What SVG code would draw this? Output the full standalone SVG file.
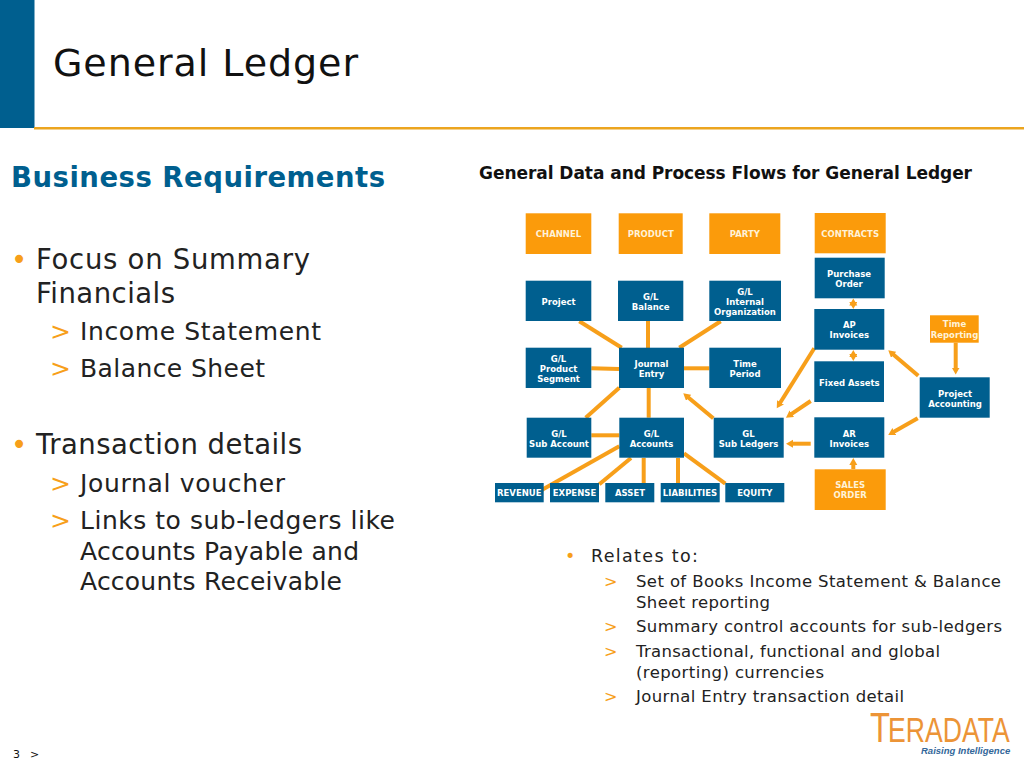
<svg xmlns="http://www.w3.org/2000/svg" width="1024" height="768" viewBox="0 0 1024 768">
<defs>
<marker id="ah" markerUnits="userSpaceOnUse" markerWidth="8" markerHeight="9" refX="2" refY="4" orient="auto-start-reverse"><path d="M0 0L7 4L0 8Z" fill="#f79f1a"/></marker>
</defs>
<style>
text{font-family:"DejaVu Sans",Verdana,sans-serif}
.b{fill:#005f8f}.o{fill:#fb9b0b}
.n text{fill:#fff;font-size:8.500px;font-weight:bold;text-anchor:middle}
.ob text{fill:#fff2d8}
.c line{stroke:#f79f1a;stroke-width:4px;fill:none}
.c .a{marker-end:url(#ah)}
.c .d{stroke-width:3px;marker-end:url(#ah);marker-start:url(#ah)}
.l1{font-size:27.500px;fill:#222}
.l2{font-size:25px;fill:#222}
.l3{font-size:16.500px;fill:#222}
.bo{fill:#f79f1a}
</style>
<g id="header">
<rect x="0" y="0" width="34.500" height="128" fill="#005f8f"/>
<rect x="34" y="127" width="990" height="2.500" fill="#eca51f"/>
<text x="53" y="76" font-size="38" fill="#111" textLength="305">General Ledger</text>
</g>
<g id="left-text">
<text x="11" y="187" font-size="27.500" font-weight="bold" fill="#005f8f" textLength="374">Business Requirements</text>
<text x="11" y="269" class="l1 bo">•</text>
<text x="36" y="269" class="l1" textLength="274">Focus on Summary</text>
<text x="36" y="303" class="l1" textLength="139">Financials</text>
<text x="50" y="340" class="l2 bo">&gt;</text>
<text x="80" y="340" class="l2" textLength="241">Income Statement</text>
<text x="50" y="377" class="l2 bo">&gt;</text>
<text x="80" y="377" class="l2" textLength="185">Balance Sheet</text>
<text x="11" y="454" class="l1 bo">•</text>
<text x="36" y="454" class="l1" textLength="266">Transaction details</text>
<text x="50" y="492" class="l2 bo">&gt;</text>
<text x="80" y="492" class="l2" textLength="205">Journal voucher</text>
<text x="50" y="529" class="l2 bo">&gt;</text>
<text x="80" y="529" class="l2" textLength="315">Links to sub-ledgers like</text>
<text x="80" y="560" class="l2" textLength="279">Accounts Payable and</text>
<text x="80" y="590" class="l2" textLength="262">Accounts Receivable</text>
</g>
<text id="diagram-title" x="479" y="179" font-size="17" font-weight="bold" fill="#111" textLength="493">General Data and Process Flows for General Ledger</text>
<g id="connectors" class="c">
<line x1="579.300" y1="321.300" x2="621.700" y2="347.700"/>
<line x1="648" y1="321" x2="648" y2="348"/>
<line x1="720.700" y1="321.300" x2="679.300" y2="347.700"/>
<line x1="591.300" y1="368.300" x2="619" y2="369"/>
<line x1="684" y1="368.300" x2="709.300" y2="368.300"/>
<line x1="619.300" y1="387.700" x2="585.700" y2="417.700"/>
<line x1="648.700" y1="388" x2="648.700" y2="417.700"/>
<line x1="591.300" y1="435.300" x2="619.300" y2="435.300"/>
<line x1="619.300" y1="446.300" x2="541.700" y2="490"/>
<line x1="631" y1="458" x2="599.300" y2="484.300"/>
<line x1="643.700" y1="458" x2="643.700" y2="483"/>
<line x1="678" y1="458" x2="678" y2="483"/>
<line x1="684" y1="453.300" x2="725.300" y2="483.700"/>
<line class="a" x1="713.300" y1="418.300" x2="687.100" y2="396.500"/>
<line class="d" x1="853.300" y1="303.500" x2="853.300" y2="304"/>
<line class="d" x1="853.300" y1="355" x2="853.300" y2="356"/>
<line class="a" x1="814.300" y1="348.300" x2="779.400" y2="404"/>
<line class="a" x1="810.700" y1="401" x2="790.100" y2="414.900"/>
<line class="a" x1="810.700" y1="443.700" x2="791" y2="443.700"/>
<line class="a" x1="853.300" y1="469" x2="853.300" y2="463"/>
<line class="a" x1="955.700" y1="342.700" x2="955.700" y2="369.500"/>
<line class="a" x1="918.300" y1="375.700" x2="892.100" y2="353.500"/>
<line class="a" x1="917.700" y1="418.300" x2="892.600" y2="432.500"/>
</g>
<g id="n-channel" class="n ob"><rect class="o" x="525.700" y="213.300" width="65.600" height="40.700"/><text x="558.500" y="237">CHANNEL</text></g>
<g id="n-product" class="n ob"><rect class="o" x="618.700" y="213.300" width="64" height="40.700"/><text x="650.700" y="237">PRODUCT</text></g>
<g id="n-party" class="n ob"><rect class="o" x="709.300" y="213.300" width="71" height="40.700"/><text x="744.800" y="237">PARTY</text></g>
<g id="n-contracts" class="n ob"><rect class="o" x="814.700" y="213" width="71" height="40.300"/><text x="850.200" y="236.500">CONTRACTS</text></g>
<g id="n-project" class="n"><rect class="b" x="525.700" y="280.700" width="65.600" height="40.300"/><text x="558.500" y="304.500">Project</text></g>
<g id="n-balance" class="n"><rect class="b" x="618" y="280.700" width="65.300" height="40.300"/><text x="650.700" y="299.500">G/L</text><text x="650.700" y="309.500">Balance</text></g>
<g id="n-internal" class="n"><rect class="b" x="709.300" y="280.700" width="71.700" height="40.300"/><text x="745" y="294.500">G/L</text><text x="745" y="304.500">Internal</text><text x="745" y="314.800">Organization</text></g>
<g id="n-segment" class="n"><rect class="b" x="525.700" y="347.700" width="65.600" height="40.300"/><text x="558.500" y="361.500">G/L</text><text x="558.500" y="371.500">Product</text><text x="558.500" y="381.800">Segment</text></g>
<g id="n-journal" class="n"><rect class="b" x="619" y="347.700" width="65" height="40.300"/><text x="651.500" y="366.500">Journal</text><text x="651.500" y="376.500">Entry</text></g>
<g id="n-time" class="n"><rect class="b" x="709.300" y="347.700" width="71.700" height="40.300"/><text x="745" y="366.500">Time</text><text x="745" y="376.500">Period</text></g>
<g id="n-subaccount" class="n"><rect class="b" x="526.700" y="417.700" width="64.600" height="40"/><text x="559" y="436.500">G/L</text><text x="559" y="446.500">Sub Account</text></g>
<g id="n-accounts" class="n"><rect class="b" x="619.300" y="417.700" width="64.700" height="40"/><text x="651.500" y="436.500">G/L</text><text x="651.500" y="446.500">Accounts</text></g>
<g id="n-subledgers" class="n"><rect class="b" x="713.700" y="417.700" width="70" height="40"/><text x="748.500" y="436.500">GL</text><text x="748.500" y="446.500">Sub Ledgers</text></g>
<g id="n-revenue" class="n"><rect class="b" x="495" y="483" width="48.700" height="19.300"/><text x="519.300" y="496">REVENUE</text></g>
<g id="n-expense" class="n"><rect class="b" x="550" y="483" width="49" height="19.300"/><text x="574.500" y="496">EXPENSE</text></g>
<g id="n-asset" class="n"><rect class="b" x="605.300" y="483" width="49" height="19.300"/><text x="630" y="496">ASSET</text></g>
<g id="n-liabilities" class="n"><rect class="b" x="660.700" y="483" width="59" height="19.300"/><text x="690" y="496">LIABILITIES</text></g>
<g id="n-equity" class="n"><rect class="b" x="725.300" y="483" width="59" height="19.300"/><text x="754.800" y="496">EQUITY</text></g>
<g id="n-purchase" class="n"><rect class="b" x="814.700" y="257.700" width="70" height="40.600"/><text x="849" y="276.500">Purchase</text><text x="849" y="286.800">Order</text></g>
<g id="n-ap" class="n"><rect class="b" x="814.300" y="309" width="70" height="40.700"/><text x="849.300" y="328">AP</text><text x="849.300" y="338">Invoices</text></g>
<g id="n-fixed" class="n"><rect class="b" x="814.300" y="361.300" width="69.700" height="40.700"/><text x="849.300" y="385.500">Fixed Assets</text></g>
<g id="n-ar" class="n"><rect class="b" x="814.300" y="417.300" width="70" height="40.400"/><text x="849.300" y="436.500">AR</text><text x="849.300" y="446.500">Invoices</text></g>
<g id="n-sales" class="n ob"><rect class="o" x="814.700" y="469.300" width="71" height="40.700"/><text x="850.200" y="488">SALES</text><text x="850.200" y="498">ORDER</text></g>
<g id="n-timerep" class="n ob"><rect class="o" x="930" y="315.300" width="48.700" height="27.400"/><text x="954.500" y="327">Time</text><text x="954.500" y="337.500">Reporting</text></g>
<g id="n-projacc" class="n"><rect class="b" x="919.700" y="377.300" width="70" height="40.400"/><text x="955" y="396.500">Project</text><text x="955" y="406.500">Accounting</text></g>
<g id="right-text">
<text x="565" y="562" font-size="17.500" class="bo">•</text>
<text x="591" y="562" font-size="17.500" fill="#222" textLength="107">Relates to:</text>
<text x="604" y="587" font-size="16" class="bo">&gt;</text>
<text x="636" y="587" class="l3" textLength="365">Set of Books Income Statement &amp; Balance</text>
<text x="636" y="608" class="l3" textLength="134">Sheet reporting</text>
<text x="604" y="632" font-size="16" class="bo">&gt;</text>
<text x="636" y="632" class="l3" textLength="366">Summary control accounts for sub-ledgers</text>
<text x="604" y="657" font-size="16" class="bo">&gt;</text>
<text x="636" y="657" class="l3" textLength="304">Transactional, functional and global</text>
<text x="636" y="678" class="l3" textLength="188">(reporting) currencies</text>
<text x="604" y="702" font-size="16" class="bo">&gt;</text>
<text x="636" y="702" class="l3" textLength="268">Journal Entry transaction detail</text>
</g>
<g id="footer">
<text x="13" y="758" font-size="11" fill="#111">3</text>
<text x="30" y="758" font-size="11" fill="#111">&gt;</text>
</g>
<g id="logo">
<text transform="translate(870 742) scale(.76 1)" style="font-family:'Liberation Sans',sans-serif" font-size="35" fill="#ec9437"><tspan font-size="43">T</tspan><tspan dx="-2.500">ERADATA</tspan></text>
<text x="921" y="754" style="font-family:'Liberation Sans',sans-serif" font-size="9.500" font-style="italic" font-weight="bold" fill="#33679a">Raising Intelligence</text>
</g>
</svg>
